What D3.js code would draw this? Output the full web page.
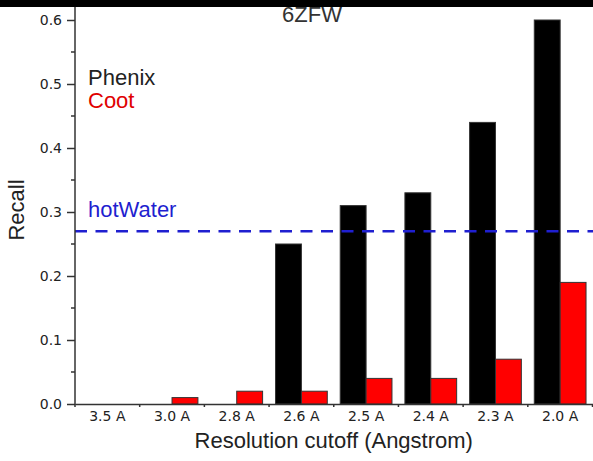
<!DOCTYPE html>
<html>
<head>
<meta charset="utf-8">
<script src="https://cdn.jsdelivr.net/npm/d3@7"></script>
<style>
  body { margin: 0; background: #fff; }
  svg { display: block; }
  .tick text { font-family: 'DejaVu Sans', sans-serif; font-size: 14px; fill: #222; }
  .lbl { font-family: 'Liberation Sans', Arial, sans-serif; font-size: 22px; }
</style>
</head>
<body>
<div id='chart'></div>

<script>
  // data
  var categories = ['3.5 A', '3.0 A', '2.8 A', '2.6 A', '2.5 A', '2.4 A', '2.3 A', '2.0 A']
  var phenix = [0, 0, 0, 0.25, 0.31, 0.33, 0.44, 0.60]
  var coot = [0, 0.01, 0.02, 0.02, 0.04, 0.04, 0.07, 0.19]
  var hotWater = 0.27
  var seriesNames = ['Phenix', 'Coot']
  var yMajor = [0, 0.1, 0.2, 0.3, 0.4, 0.5, 0.6]
  var yMinor = [0.05, 0.15, 0.25, 0.35, 0.45, 0.55]

  var width = 593, height = 461
  var colours = { Phenix: '#000000', Coot: '#ff0000' }

  var svg = d3.select('#chart')
              .append('svg')
              .attr('width', width)
              .attr('height', height)

  var x = d3.scaleBand()
            .domain(categories)
            .range([75, 592.5])
            .paddingInner(0.2)
            .paddingOuter(0.1)

  var xs = d3.scaleBand()
             .domain(seriesNames)
             .range([0, x.bandwidth()])

  var y = d3.scaleLinear()
            .domain([0, 0.6])
            .range([404, 20])

  var rows = categories.map(function(c, i) {
    return { cat: c, Phenix: phenix[i], Coot: coot[i] }
  })

  // title (its top is hidden by the band drawn later)
  svg.append('text')
     .attr('class', 'lbl')
     .attr('x', 312)
     .attr('y', 22)
     .attr('text-anchor', 'middle')
     .attr('fill', '#333')
     .text('6ZFW')

  // bars
  var groups = svg.selectAll('g.grp')
                  .data(rows)
                  .enter()
                  .append('g')
                  .attr('class', 'grp')
                  .attr('transform', function(d) { return 'translate(' + x(d.cat) + ',0)' })

  groups.selectAll('rect')
        .data(function(d) {
          return seriesNames.map(function(s) { return { s: s, v: d[s] } })
        })
        .enter()
        .append('rect')
        .attr('x', function(d) { return xs(d.s) })
        .attr('width', xs.bandwidth())
        .attr('y', function(d) { return y(d.v) })
        .attr('height', function(d) { return y(0) - y(d.v) })
        .attr('fill', function(d) { return colours[d.s] })
        .attr('stroke', '#333')
        .attr('stroke-width', 1)

  // hotWater reference line
  svg.append('line')
     .attr('x1', x.range()[0])
     .attr('x2', width)
     .attr('y1', y(hotWater))
     .attr('y2', y(hotWater))
     .attr('stroke', '#1f1fd0')
     .attr('stroke-width', 2.5)
     .attr('stroke-dasharray', '12,8.5')

  svg.append('text')
     .attr('class', 'lbl')
     .attr('x', 88)
     .attr('y', 217)
     .attr('fill', '#1f1fd0')
     .text('hotWater')

  // legend
  svg.append('text')
     .attr('class', 'lbl')
     .attr('x', 88)
     .attr('y', 85)
     .attr('fill', '#222')
     .text('Phenix')

  svg.append('text')
     .attr('class', 'lbl')
     .attr('x', 88)
     .attr('y', 108)
     .attr('fill', '#e00000')
     .text('Coot')

  // x axis: labels centred, ticks at category boundaries
  var xAxis = svg.append('g')
                 .attr('transform', 'translate(0,' + y(0) + ')')
                 .call(d3.axisBottom(x).tickSize(0).tickPadding(7))
  xAxis.select('.domain')
       .attr('stroke', '#333')
       .attr('stroke-width', 1.5)

  var bounds = d3.range(categories.length + 1).map(function(i) {
    return x.range()[0] + i * x.step()
  })
  xAxis.selectAll('line.bnd')
       .data(bounds)
       .enter()
       .append('line')
       .attr('class', 'bnd')
       .attr('x1', function(d) { return d })
       .attr('x2', function(d) { return d })
       .attr('y1', 0)
       .attr('y2', 3)
       .attr('stroke', '#333')
       .attr('stroke-width', 1.5)

  // y axis
  var yAxis = svg.append('g')
                 .attr('transform', 'translate(75,0)')
                 .call(d3.axisLeft(y)
                         .tickValues(yMajor)
                         .tickFormat(d3.format('.1f'))
                         .tickSize(8)
                         .tickPadding(5)
                         .tickSizeOuter(0))
  yAxis.selectAll('line').attr('stroke', '#333').attr('stroke-width', 1.5)
  yAxis.select('.domain').remove()

  yAxis.selectAll('line.minor')
       .data(yMinor)
       .enter()
       .append('line')
       .attr('class', 'minor')
       .attr('x1', -4)
       .attr('x2', 0)
       .attr('y1', function(d) { return y(d) })
       .attr('y2', function(d) { return y(d) })
       .attr('stroke', '#333')
       .attr('stroke-width', 1.5)

  yAxis.append('line')
       .attr('x1', 0)
       .attr('x2', 0)
       .attr('y1', 0)
       .attr('y2', y(0) + 0.75)
       .attr('stroke', '#333')
       .attr('stroke-width', 1.5)

  // axis titles
  svg.append('text')
     .attr('class', 'lbl')
     .attr('x', (x.range()[0] + x.range()[1]) / 2)
     .attr('y', 448)
     .attr('text-anchor', 'middle')
     .attr('fill', '#222')
     .text('Resolution cutoff (Angstrom)')

  svg.append('text')
     .attr('class', 'lbl')
     .attr('transform', 'translate(24,210) rotate(-90)')
     .attr('text-anchor', 'middle')
     .attr('fill', '#222')
     .text('Recall')

  // black band across the top
  svg.append('rect')
     .attr('x', 0)
     .attr('y', 0)
     .attr('width', width)
     .attr('height', 7)
     .attr('fill', '#000')
</script>
</body>
</html>
